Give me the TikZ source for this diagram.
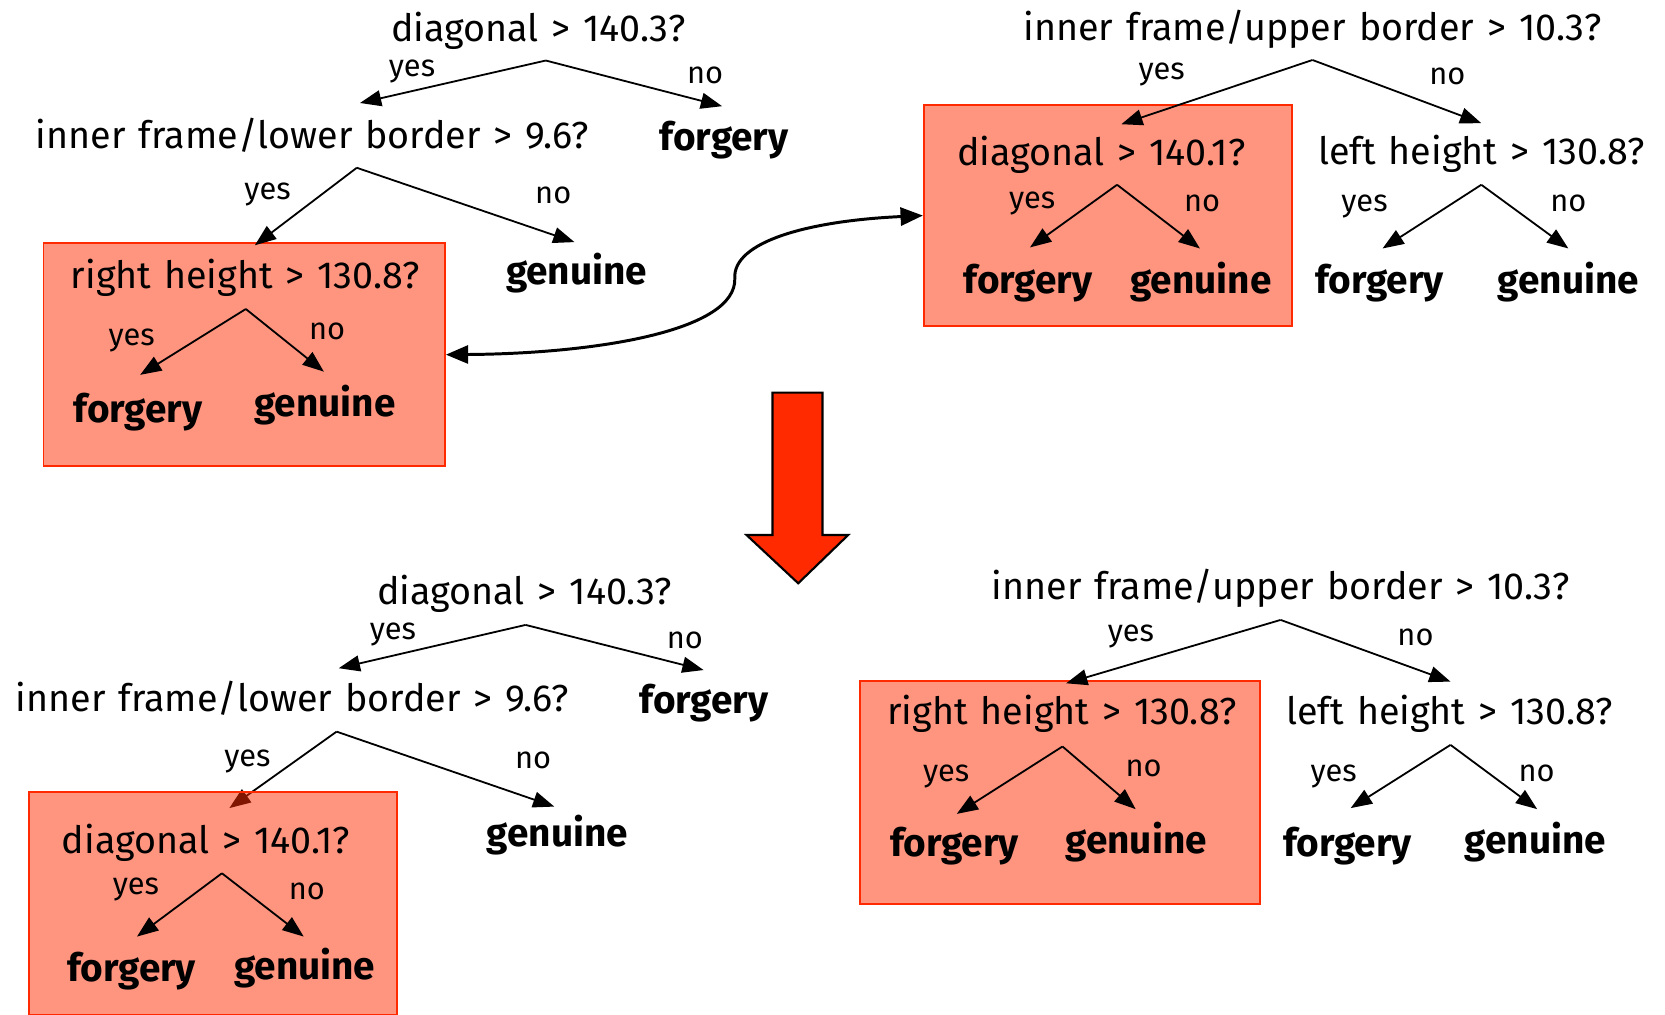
\documentclass[tikz,border=0pt]{standalone}
\usepackage{fontspec}
\setmainfont{Fira Sans}
\newfontfamily\qfont[WordSpace=1.3]{Fira Sans}
\usetikzlibrary{arrows.meta}
\definecolor{hot}{RGB}{255,42,0}
\tikzset{
  q/.style={anchor=base, inner sep=0pt, font=\qfont\fontsize{35.5}{40}\selectfont},
  leaf/.style={anchor=base, inner sep=0pt, font=\fontsize{36.5}{42}\selectfont\bfseries},
  yn/.style={anchor=base, inner sep=0pt, font=\fontsize{29}{32}\selectfont},
  br/.style={line width=1.7pt, -{Triangle[length=20pt,width=15pt]}},
  hbox/.style={draw=hot, fill=hot, fill opacity=0.5, line width=1.8pt, inner sep=0pt},
  swap/.style={line width=2.8pt, {Triangle[length=21pt,width=17pt]}-{Triangle[length=21pt,width=17pt]}},
  bigarrow/.style={fill=hot, draw=black, line width=2pt, line join=miter},
}
\begin{document}
\begin{tikzpicture}[x=1pt,y=-1pt]
\useasboundingbox (0,0) rectangle (1568,955);
\clip (0,0) rectangle (1568,955);

% ---------- tree 3 (bottom left): its yes-branch tip sits under the box tint
\coordinate (a32) at (317,689);
\coordinate (t32y) at (216,761);
\draw[br] (a32) -- (t32y);

% ---------- highlighted subtrees
\node[hbox, minimum width=378pt, minimum height=210pt] (b1) at (230,334) {};
\node[hbox, minimum width=347pt, minimum height=208pt] (b2) at (1043.5,203) {};
\node[hbox, minimum width=347pt, minimum height=210pt] (b3) at (200.5,851) {};
\node[hbox, minimum width=377pt, minimum height=210pt] (b4) at (998.5,746) {};

% ---------- tree 1 (top left)
\node[q] (q11) at (507,39.2) {diagonal > 140.3?};
\node[q] (q12) at (294,139.7) {inner frame/lower border > 9.6?};
\node[leaf] (l11) at (682,142) {forgery};
\node[q] (q13) at (231,271.5) {right height > 130.8?};
\node[leaf] (l12) at (543,268) {genuine};
\node[leaf] (l13) at (130,398) {forgery};
\node[leaf] (l14) at (306,392) {genuine};
\node[yn] (y11) at (388,72) {yes};
\node[yn] (n11) at (664,78.5) {no};
\node[yn] (y12) at (252,188) {yes};
\node[yn] (n12) at (521,191.5) {no};
\node[yn] (y13) at (124,325) {yes};
\node[yn] (n13) at (308,320) {no};
\coordinate (a11) at (514,57);
\coordinate (t11y) at (339,97);
\coordinate (t11n) at (680,100);
\coordinate (a12) at (336,158);
\coordinate (t12y) at (240,231);
\coordinate (t12n) at (541,228);
\coordinate (a13) at (231.5,291);
\coordinate (t13y) at (132,353);
\coordinate (t13n) at (305,350);
\draw[br] (a11) -- (t11y);
\draw[br] (a11) -- (t11n);
\draw[br] (a12) -- (t12y);
\draw[br] (a12) -- (t12n);
\draw[br] (a13) -- (t13y);
\draw[br] (a13) -- (t13n);

% ---------- tree 2 (top right)
\node[q] (q21) at (1236,37.7) {inner frame/upper border > 10.3?};
\node[q] (q22) at (1037,155.4) {diagonal > 140.1?};
\node[q] (q23) at (1395,155) {left height > 130.8?};
\node[leaf] (l21) at (968,276) {forgery};
\node[leaf] (l22) at (1131,276) {genuine};
\node[leaf] (l23) at (1299,276) {forgery};
\node[leaf] (l24) at (1477,276) {genuine};
\node[yn] (y21) at (1094,75) {yes};
\node[yn] (n21) at (1363,80) {no};
\node[yn] (y22) at (972,196) {yes};
\node[yn] (n22) at (1132,199) {no};
\node[yn] (y23) at (1285,199) {yes};
\node[yn] (n23) at (1477,199) {no};
\coordinate (a21) at (1236,56.5);
\coordinate (t21y) at (1056,117);
\coordinate (t21n) at (1395,116);
\coordinate (a22) at (1052,174);
\coordinate (t22y) at (970,233);
\coordinate (t22n) at (1130,234);
\coordinate (a23) at (1395,174);
\coordinate (t23y) at (1302,234);
\coordinate (t23n) at (1477,234);
\draw[br] (a21) -- (t21y);
\draw[br] (a21) -- (t21n);
\draw[br] (a22) -- (t22y);
\draw[br] (a22) -- (t22n);
\draw[br] (a23) -- (t23y);
\draw[br] (a23) -- (t23n);

% ---------- exchange of the two subtrees
\draw[swap] (b2.west) .. controls (760,208) and (690,228) .. (692,262)
            .. controls (694,312) and (560,333) .. (b1.east);

% ---------- big down arrow
\draw[bigarrow] (727.5,369.7) -- (774.6,369.7) -- (774.6,503.8) -- (798.8,503.8)
  -- (751.7,549.3) -- (703,503.8) -- (727.5,503.8) -- cycle;

% ---------- tree 3 (bottom left)
\node[q] (q31) at (494,569.7) {diagonal > 140.3?};
\node[q] (q32) at (275,670) {inner frame/lower border > 9.6?};
\node[leaf] (l31) at (663,671.7) {forgery};
\node[leaf] (l32) at (525,797) {genuine};
\node[q] (q33) at (194,803.5) {diagonal > 140.1?};
\node[leaf] (l33) at (124,924) {forgery};
\node[leaf] (l34) at (287,922.8) {genuine};
\node[yn] (y31) at (370,602.7) {yes};
\node[yn] (n31) at (645,610.5) {no};
\node[yn] (y32) at (233,722) {yes};
\node[yn] (n32) at (502,723.5) {no};
\node[yn] (y33) at (128,842.8) {yes};
\node[yn] (n33) at (289,847.5) {no};
\coordinate (a31) at (495,588.5);
\coordinate (t31y) at (319,629.3);
\coordinate (t31n) at (662.6,631);
\coordinate (t32n) at (522,759.6);
\coordinate (a33) at (209,822.4);
\coordinate (t33y) at (129,882);
\coordinate (t33n) at (286,882);
\draw[br] (a31) -- (t31y);
\draw[br] (a31) -- (t31n);
\draw[br] (a32) -- (t32n);
\draw[br] (a33) -- (t33y);
\draw[br] (a33) -- (t33n);

% ---------- tree 4 (bottom right)
\node[q] (q41) at (1206,565) {inner frame/upper border > 10.3?};
\node[q] (q42) at (1000,682.7) {right height > 130.8?};
\node[q] (q43) at (1365,682.7) {left height > 130.8?};
\node[leaf] (l41) at (899,806.7) {forgery};
\node[leaf] (l42) at (1070,803.5) {genuine};
\node[leaf] (l43) at (1269,806.7) {forgery};
\node[leaf] (l44) at (1446,803.5) {genuine};
\node[yn] (y41) at (1065,604) {yes};
\node[yn] (n41) at (1333,608) {no};
\node[yn] (y42) at (891,736) {yes};
\node[yn] (n42) at (1077,731) {no};
\node[yn] (y43) at (1256,736) {yes};
\node[yn] (n43) at (1447,736) {no};
\coordinate (a41) at (1206,583.8);
\coordinate (t41y) at (1004,643.5);
\coordinate (t41n) at (1366,641.9);
\coordinate (a42) at (1000.6,703);
\coordinate (t42y) at (901,766.5);
\coordinate (t42n) at (1069.5,762);
\coordinate (a43) at (1366,701.5);
\coordinate (t43y) at (1272,761);
\coordinate (t43n) at (1447.6,762);
\draw[br] (a41) -- (t41y);
\draw[br] (a41) -- (t41n);
\draw[br] (a42) -- (t42y);
\draw[br] (a42) -- (t42n);
\draw[br] (a43) -- (t43y);
\draw[br] (a43) -- (t43n);
\end{tikzpicture}
\end{document}
